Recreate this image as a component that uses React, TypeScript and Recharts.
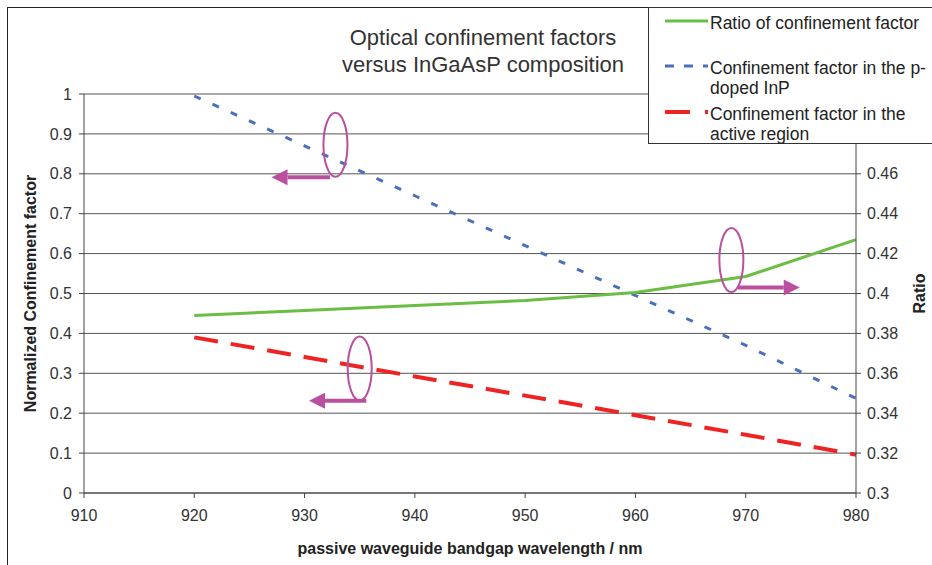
import {
  LineChart,
  Line,
  XAxis,
  YAxis,
  CartesianGrid,
  Legend,
  ReferenceDot,
  ReferenceLine,
} from "recharts";

const wavelengths = [920, 930, 940, 950, 960, 970, 980];
const pDopedInP = [0.995, 0.87, 0.745, 0.62, 0.495, 0.37, 0.237];
const activeRegion = [0.39, 0.341, 0.292, 0.244, 0.195, 0.146, 0.096];
const ratio = [0.389, 0.3915, 0.394, 0.3965, 0.4005, 0.4085, 0.427];

const xTicks = [910, 920, 930, 940, 950, 960, 970, 980];
const leftTicks = [0, 0.1, 0.2, 0.3, 0.4, 0.5, 0.6, 0.7, 0.8, 0.9, 1];
const rightTicks = [0.3, 0.32, 0.34, 0.36, 0.38, 0.4, 0.42, 0.44, 0.46, 0.48, 0.5];

// annotation marks, in data units of the left axis
const ellipses = [
  { x: 932.8, y: 0.873 },
  { x: 968.7, y: 0.584 },
  { x: 935.0, y: 0.312 },
];
const arrows = [
  { x1: 932.3, x2: 927.0, y: 0.7915 },
  { x1: 969.3, x2: 974.9, y: 0.515 },
  { x1: 935.6, x2: 930.4, y: 0.231 },
];

const data = wavelengths.map((w, i) => ({
  wavelength: w,
  ratio: ratio[i],
  pDoped: pDopedInP[i],
  active: activeRegion[i],
}));

const FONT = "'Liberation Sans', Arial, Helvetica, sans-serif";
const MAGENTA = "#bb4f9f";

const legendRows = [
  { key: "ratio", color: "#6cbd45", dash: "", width: 3, lines: ["Ratio of confinement factor"], top: 4 },
  { key: "pDoped", color: "#4a6fbd", dash: "9 10", width: 3, lines: ["Confinement factor in the p-", "doped InP"], top: 49 },
  { key: "active", color: "#ee2424", dash: "25 15", width: 4, lines: ["Confinement factor in the", "active region"], top: 95 },
];

const renderLegend = () => (
  <div
    style={{
      position: "relative",
      width: 300,
      height: 137,
      border: "1px solid #333",
      background: "#fff",
      fontFamily: FONT,
      fontSize: 17.5,
      color: "#222",
      boxSizing: "border-box",
    }}
  >
    {legendRows.map((r) => (
      <div key={r.key} style={{ position: "absolute", left: 0, top: r.top }}>
        <svg width={62} height={20} style={{ position: "absolute", left: 0, top: 0 }}>
          <line
            x1={16}
            x2={59}
            y1={9}
            y2={9}
            stroke={r.color}
            strokeWidth={r.width}
            strokeDasharray={r.dash || undefined}
          />
        </svg>
        <div style={{ position: "absolute", left: 61, top: 1, lineHeight: "20px", whiteSpace: "nowrap" }}>
          {r.lines.map((t) => (
            <div key={t}>{t}</div>
          ))}
        </div>
      </div>
    ))}
  </div>
);

const Ellipse = (props: any) => (
  <ellipse cx={props.cx} cy={props.cy} rx={12} ry={32} fill="none" stroke={MAGENTA} strokeWidth={2} />
);

const Arrow = (props: any) => {
  const { x1, y1, x2, y2 } = props;
  const dir = x2 > x1 ? 1 : -1;
  const base = x2 - dir * 16;
  return (
    <g>
      <line x1={x1} y1={y1} x2={base} y2={y2} stroke={MAGENTA} strokeWidth={4} />
      <polygon points={`${x2},${y2} ${base},${y2 - 8} ${base},${y2 + 8}`} fill={MAGENTA} />
    </g>
  );
};

const tickStyle = { fontSize: 16, fill: "#333", fontFamily: FONT };
const labelStyle = { fontSize: 16, fontWeight: "bold" as const, fill: "#222", fontFamily: FONT, textAnchor: "middle" as const };

export default function App() {
  return (
    <div
      style={{
        position: "absolute",
        left: 0,
        top: 0,
        width: 932,
        height: 565,
        overflow: "hidden",
        background: "#fff",
      }}
    >
      <div
        style={{
          position: "absolute",
          left: 7,
          top: 7,
          width: 960,
          height: 600,
          border: "1.5px solid #222",
        }}
      />
      <div
        style={{
          position: "absolute",
          left: 0,
          top: 24,
          width: 966,
          textAlign: "center",
          fontFamily: FONT,
          fontSize: 22,
          lineHeight: "27px",
          color: "#333",
        }}
      >
        Optical confinement factors
        <br />
        versus InGaAsP composition
      </div>
      <div style={{ position: "absolute", left: 0, top: 0 }}>
        <LineChart width={932} height={565} data={data} margin={{ top: 94, right: 0, bottom: 0, left: 8 }}>
          <CartesianGrid yAxisId="left" vertical={false} stroke="#555" strokeWidth={1} />
          <XAxis
            dataKey="wavelength"
            type="number"
            domain={[910, 980]}
            ticks={xTicks}
            tick={tickStyle}
            tickSize={5}
            tickMargin={12}
            height={72}
            stroke="#444"
            label={{ value: "passive waveguide bandgap wavelength / nm", position: "insideBottom", offset: 11, style: labelStyle }}
          />
          <YAxis
            yAxisId="left"
            domain={[0, 1]}
            ticks={leftTicks}
            tick={tickStyle}
            tickSize={5}
            tickMargin={7}
            width={76}
            stroke="#444"
            label={{ value: "Normalized Confinement factor", angle: -90, position: "insideLeft", offset: 22, style: labelStyle }}
          />
          <YAxis
            yAxisId="right"
            orientation="right"
            domain={[0.3, 0.5]}
            ticks={rightTicks}
            tick={tickStyle}
            tickSize={5}
            tickMargin={6}
            width={76}
            stroke="#444"
            label={{ value: "Ratio", angle: -90, position: "insideRight", offset: 13, style: labelStyle }}
          />
          <Line
            yAxisId="left"
            dataKey="pDoped"
            name="Confinement factor in the p-doped InP"
            stroke="#4a6fbd"
            strokeWidth={3}
            strokeDasharray="7 13"
            dot={false}
            isAnimationActive={false}
          />
          <Line
            yAxisId="left"
            dataKey="active"
            name="Confinement factor in the active region"
            stroke="#ee2424"
            strokeWidth={4}
            strokeDasharray="24 13"
            dot={false}
            isAnimationActive={false}
          />
          <Line
            yAxisId="right"
            dataKey="ratio"
            name="Ratio of confinement factor"
            stroke="#6cbd45"
            strokeWidth={3}
            dot={false}
            isAnimationActive={false}
          />
          {ellipses.map((e, i) => (
            <ReferenceDot key={`e${i}`} yAxisId="left" x={e.x} y={e.y} r={1} shape={Ellipse} />
          ))}
          {arrows.map((a, i) => (
            <ReferenceLine
              key={`a${i}`}
              yAxisId="left"
              segment={[
                { x: a.x1, y: a.y },
                { x: a.x2, y: a.y },
              ]}
              shape={Arrow}
            />
          ))}
          <Legend
            layout="vertical"
            align="center"
            verticalAlign="middle"
            content={renderLegend}
            wrapperStyle={{ left: 648, top: 7, width: 300 }}
          />
        </LineChart>
      </div>
    </div>
  );
}
